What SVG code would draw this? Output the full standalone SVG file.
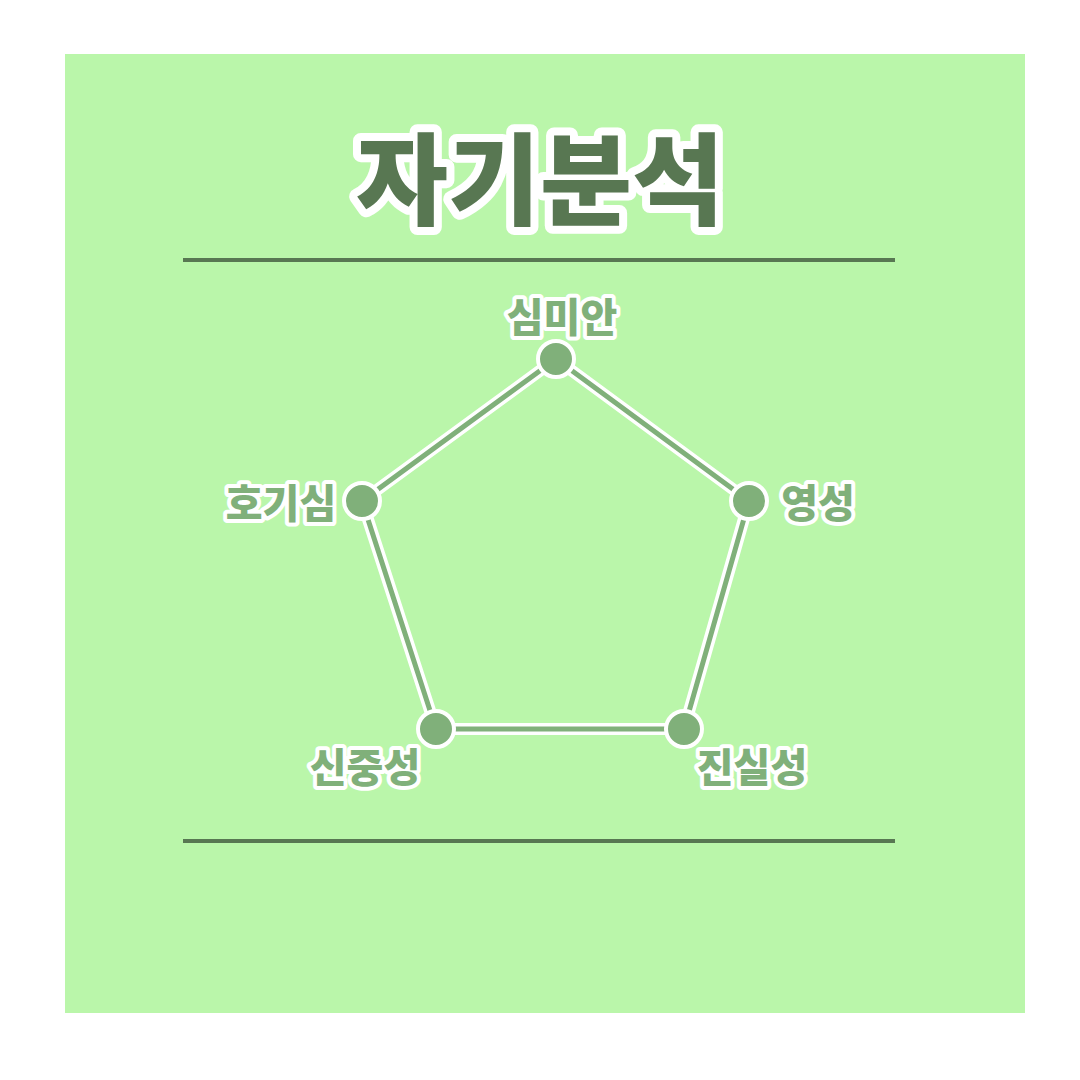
<svg xmlns="http://www.w3.org/2000/svg" width="1080" height="1080" viewBox="0 0 1080 1080">
<style>
.title{font-family:"Noto Sans CJK KR","Noto Sans",sans-serif;font-weight:900;font-size:100px;fill:#587752;stroke:#fff;stroke-width:16px;stroke-linejoin:round;paint-order:stroke;text-anchor:middle}
.lbl{font-family:"Noto Sans CJK KR","Noto Sans",sans-serif;font-weight:900;font-size:40px;fill:#80B07A;stroke:#fff;stroke-width:8px;stroke-linejoin:round;paint-order:stroke;text-anchor:middle}
.rule{stroke:#587752;stroke-width:4}
.edgeW{stroke:#fff;stroke-width:12;stroke-linecap:round;fill:none}
.edgeG{stroke:#80B07A;stroke-width:5;stroke-linecap:round;fill:none}
.node{fill:#80B07A;stroke:#fff;stroke-width:4}
</style>
<rect width="1080" height="1080" fill="#fff"/>
<rect x="65" y="54" width="960" height="959" fill="#BAF6AA"/>
<g id="title"><text class="title" x="540" y="217">자기분석</text></g>
<line class="rule" x1="183" y1="260" x2="895" y2="260"/>
<line class="rule" x1="183" y1="841" x2="895" y2="841"/>
<g id="connectors">
<polygon class="edgeW" points="556,359 749,501 684,729 436,729 362,501"/>
<polygon class="edgeG" points="556,359 749,501 684,729 436,729 362,501"/>
</g>
<g id="n-top"><circle class="node" cx="556" cy="359" r="18"/><text class="lbl" x="562" y="332">심미안</text></g>
<g id="n-right"><circle class="node" cx="749" cy="501" r="18"/><text class="lbl" x="818" y="518">영성</text></g>
<g id="n-br"><circle class="node" cx="684" cy="729" r="18"/><text class="lbl" x="752" y="782">진실성</text></g>
<g id="n-bl"><circle class="node" cx="436" cy="729" r="18"/><text class="lbl" x="365" y="782">신중성</text></g>
<g id="n-left"><circle class="node" cx="362" cy="501" r="18"/><text class="lbl" x="281" y="518">호기심</text></g>
</svg>
